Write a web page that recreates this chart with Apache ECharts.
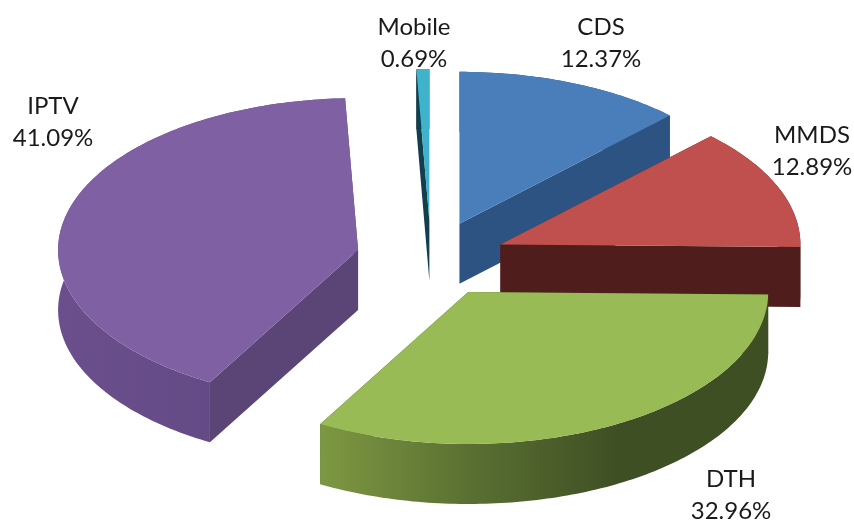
<!DOCTYPE html>
<html>
<head>
<meta charset="utf-8">
<script src="https://cdn.jsdelivr.net/npm/echarts@6/dist/echarts.min.js"></script>
<style>html,body{margin:0;padding:0;background:#fff}#c{width:854px;height:522px}</style>
</head>
<body>
<div id="c"></div>
<script>
// Data, clockwise from 12 o'clock
const categories = ['CDS', 'MMDS', 'DTH', 'IPTV', 'Mobile'];
const shares = [12.37, 12.89, 32.96, 41.09, 0.69];

// Projection of the tilted pie
const PIE = { cx: 431, cy: 259, rx: 300, ry: 152, depth: 60, explode: 75 };

// Styling, keyed by category
const LOOK = {
  CDS:    { top: '#4a7ebb', cut: '#2d5382', outer: ['#2d5382', '#2d5382'] },
  MMDS:   { top: '#c0504d', cut: '#4f1e1c', outer: ['#4f1e1c', '#4f1e1c'] },
  DTH:    { top: '#98bb55', cut: '#3f4f24', outer: ['#7d9842', '#5a7032', '#3f4f24', '#3f4f24'] },
  IPTV:   { top: '#7f60a2', cut: '#5b4577', outer: ['#6a4f8c', '#5f4680'] },
  Mobile: { top: '#3fb2cc', cut: '#123e4d', outer: ['#123e4d', '#123e4d'] }
};
// Label centres (first line)
const LABEL_AT = {
  CDS: [601, 27], MMDS: [812, 135], DTH: [731, 479], IPTV: [53, 106], Mobile: [414, 27]
};

const total = shares.reduce((a, b) => a + b, 0);
let acc = 0;
const slices = categories.map((name, i) => {
  const a0 = acc / total * 2 * Math.PI;
  acc += shares[i];
  const a1 = acc / total * 2 * Math.PI;
  const mid = (a0 + a1) / 2;
  const ax = PIE.cx + PIE.explode * Math.sin(mid);
  const ay = PIE.cy - PIE.explode * (PIE.ry / PIE.rx) * Math.cos(mid);
  return { name, a0, a1, ax, ay };
});
const paintOrder = slices.slice().sort((p, q) => p.ay - q.ay).map(s => s.name);

function arcPts(s, dy) {
  const n = Math.max(3, Math.ceil((s.a1 - s.a0) / (Math.PI / 180)));
  const pts = [];
  for (let k = 0; k <= n; k++) {
    const a = s.a0 + (s.a1 - s.a0) * k / n;
    pts.push([s.ax + PIE.rx * Math.sin(a), s.ay - PIE.ry * Math.cos(a) + dy]);
  }
  return pts;
}
function wallFill(colors) {
  const stops = colors.map((c, i) => ({ offset: i / (colors.length - 1), color: c }));
  return new echarts.graphic.LinearGradient(0, 0, 1, 0, stops);
}

function renderItem(params, api) {
  const s = slices[params.dataIndex];
  const look = LOOK[s.name];
  const base = paintOrder.indexOf(s.name) * 10;
  const topArc = arcPts(s, 0);
  const botArc = arcPts(s, PIE.depth);
  const apex = [s.ax, s.ay];
  const apexLow = [s.ax, s.ay + PIE.depth];
  const first = topArc[0], last = topArc[topArc.length - 1];
  const firstLow = botArc[0], lastLow = botArc[botArc.length - 1];
  const poly = (points, fill, z2) => ({
    type: 'polygon', z2, shape: { points },
    style: { fill, stroke: null }
  });
  const at = LABEL_AT[s.name];
  return {
    type: 'group',
    children: [
      poly([apex, first, firstLow, apexLow], look.cut, base + 1),
      poly([apex, last, lastLow, apexLow], look.cut, base + 1),
      poly(topArc.concat(botArc.slice().reverse()), wallFill(look.outer), base + 2),
      poly([apex].concat(topArc), look.top, base + 3),
      {
        type: 'text', z2: 100,
        style: {
          x: at[0], y: at[1] - 16,
          text: s.name + '\n' + shares[params.dataIndex].toFixed(2) + '%',
          align: 'center', verticalAlign: 'top',
          fontFamily: 'Lato', fontSize: 24, lineHeight: 32, fill: '#1a1a1a'
        }
      }
    ]
  };
}

const chart = echarts.init(document.getElementById('c'), null, { renderer: 'canvas' });
chart.setOption({
  animation: false,
  backgroundColor: '#ffffff',
  series: [{
    type: 'custom',
    coordinateSystem: 'none',
    silent: true,
    renderItem,
    data: shares.map((v, i) => ({ name: categories[i], value: v }))
  }]
});
</script>
</body>
</html>
